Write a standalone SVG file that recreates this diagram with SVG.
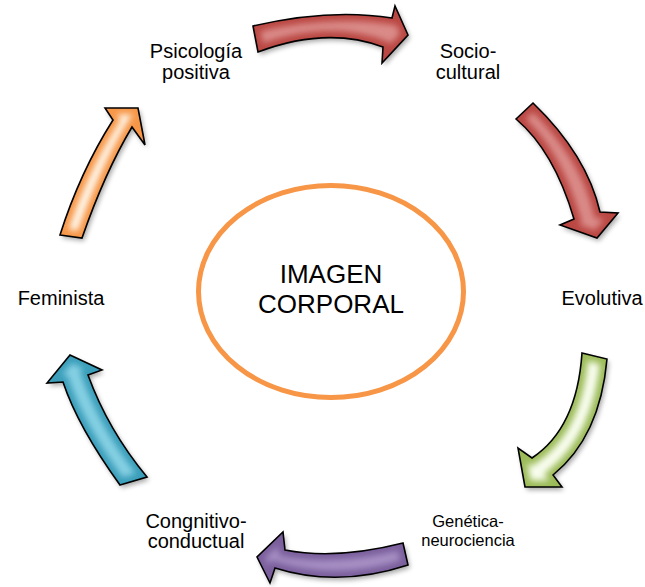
<svg xmlns="http://www.w3.org/2000/svg" xmlns:xlink="http://www.w3.org/1999/xlink" width="645" height="587" viewBox="0 0 645 587">
<style>
  .lbl { font-family: "Liberation Sans", Arial, sans-serif; fill: #000; text-anchor: middle; }
  .main { font-size: 20px; }
  .small { font-size: 16.5px; }
  .center { font-size: 26px; }
  .edge { fill: none; stroke: #000; stroke-width: 1.6; stroke-linejoin: miter; }
  .glow { fill: none; stroke-width: 13; }
  .shadow { fill: #000; opacity: 0.35; }
</style>
<defs>
  <filter id="blur" x="-30%" y="-30%" width="160%" height="160%">
    <feGaussianBlur stdDeviation="3"/>
  </filter>
  <filter id="sh" x="-30%" y="-30%" width="160%" height="160%">
    <feGaussianBlur stdDeviation="2.5"/>
  </filter>
  <path id="p1" d="M253,26 Q330,8 392,18 L395,6 L408,35 L382,63 L383,47 Q327,26 258,52 Z"/>
  <path id="p2" d="M516,119 L533,103 Q587,155 600,212 L618,213 L597,238 L560,225 L574,219 Q554,151 516,119 Z"/>
  <path id="p3" d="M582,353 L607,359 Q600,437 553,475 L562,487 L525,487 L518,448 L532,458 Q577,428 582,353 Z"/>
  <path id="p4" d="M403,543 L408,565 Q338,588 275,568 L270,583 L257,557 L283,532 L285,550 Q336,560 403,543 Z"/>
  <path id="p5" d="M120,485 L147,477 Q108,430 88,375 L102,370 L70,355 L47,383 L63,382 Q78,427 120,485 Z"/>
  <path id="p6" d="M60,235 L82,238 Q105,172 132,127 L145,145 L138,108 L105,108 L113,120 Q80,172 60,235 Z"/>
  <clipPath id="c1"><use xlink:href="#p1"/></clipPath>
  <clipPath id="c2"><use xlink:href="#p2"/></clipPath>
  <clipPath id="c3"><use xlink:href="#p3"/></clipPath>
  <clipPath id="c4"><use xlink:href="#p4"/></clipPath>
  <clipPath id="c5"><use xlink:href="#p5"/></clipPath>
  <clipPath id="c6"><use xlink:href="#p6"/></clipPath>
</defs>
<rect width="645" height="587" fill="#fff"/>

<g id="connectors">
  <g id="arrow-top">
    <use xlink:href="#p1" class="shadow" filter="url(#sh)" transform="translate(2,3)"/>
    <use xlink:href="#p1" fill="#DA8B89"/>
    <g clip-path="url(#c1)"><use xlink:href="#p1" class="glow" stroke="#BA4643" filter="url(#blur)"/></g>
    <use xlink:href="#p1" class="edge"/>
  </g>
  <g id="arrow-right-upper">
    <use xlink:href="#p2" class="shadow" filter="url(#sh)" transform="translate(2,3)"/>
    <use xlink:href="#p2" fill="#DA8B89"/>
    <g clip-path="url(#c2)"><use xlink:href="#p2" class="glow" stroke="#BA4643" filter="url(#blur)"/></g>
    <use xlink:href="#p2" class="edge"/>
  </g>
  <g id="arrow-right-lower">
    <use xlink:href="#p3" class="shadow" filter="url(#sh)" transform="translate(2,3)"/>
    <use xlink:href="#p3" fill="#F8FDEE"/>
    <g clip-path="url(#c3)"><use xlink:href="#p3" class="glow" stroke="#9BBB59" filter="url(#blur)"/></g>
    <use xlink:href="#p3" class="edge"/>
  </g>
  <g id="arrow-bottom">
    <use xlink:href="#p4" class="shadow" filter="url(#sh)" transform="translate(2,3)"/>
    <use xlink:href="#p4" fill="#A790C4"/>
    <g clip-path="url(#c4)"><use xlink:href="#p4" class="glow" stroke="#7A5E9C" filter="url(#blur)"/></g>
    <use xlink:href="#p4" class="edge"/>
  </g>
  <g id="arrow-left-lower">
    <use xlink:href="#p5" class="shadow" filter="url(#sh)" transform="translate(2,3)"/>
    <use xlink:href="#p5" fill="#86D0E3"/>
    <g clip-path="url(#c5)"><use xlink:href="#p5" class="glow" stroke="#3A9EBA" filter="url(#blur)"/></g>
    <use xlink:href="#p5" class="edge"/>
  </g>
  <g id="arrow-left-upper">
    <use xlink:href="#p6" class="shadow" filter="url(#sh)" transform="translate(2,3)"/>
    <use xlink:href="#p6" fill="#FFF8EC"/>
    <g clip-path="url(#c6)"><use xlink:href="#p6" class="glow" stroke="#F79646" filter="url(#blur)"/></g>
    <use xlink:href="#p6" class="edge"/>
  </g>
</g>

<g id="node-center">
  <ellipse cx="331" cy="291.5" rx="132.5" ry="106" fill="#fff" stroke="#F79646" stroke-width="5"/>
  <text class="lbl center" x="331" y="283">IMAGEN</text>
  <text class="lbl center" x="331" y="313">CORPORAL</text>
</g>
<g id="node-psicologia">
  <text class="lbl main" x="196" y="58">Psicología</text>
  <text class="lbl main" x="196" y="79">positiva</text>
</g>
<g id="node-socio">
  <text class="lbl main" x="468" y="58">Socio-</text>
  <text class="lbl main" x="468" y="79">cultural</text>
</g>
<g id="node-evolutiva">
  <text class="lbl main" x="602" y="305">Evolutiva</text>
</g>
<g id="node-genetica">
  <text class="lbl small" x="468" y="527">Genética-</text>
  <text class="lbl small" x="468" y="546">neurociencia</text>
</g>
<g id="node-cognitivo">
  <text class="lbl main" x="196" y="528">Congnitivo-</text>
  <text class="lbl main" x="196" y="548">conductual</text>
</g>
<g id="node-feminista">
  <text class="lbl main" x="61" y="305">Feminista</text>
</g>
</svg>
